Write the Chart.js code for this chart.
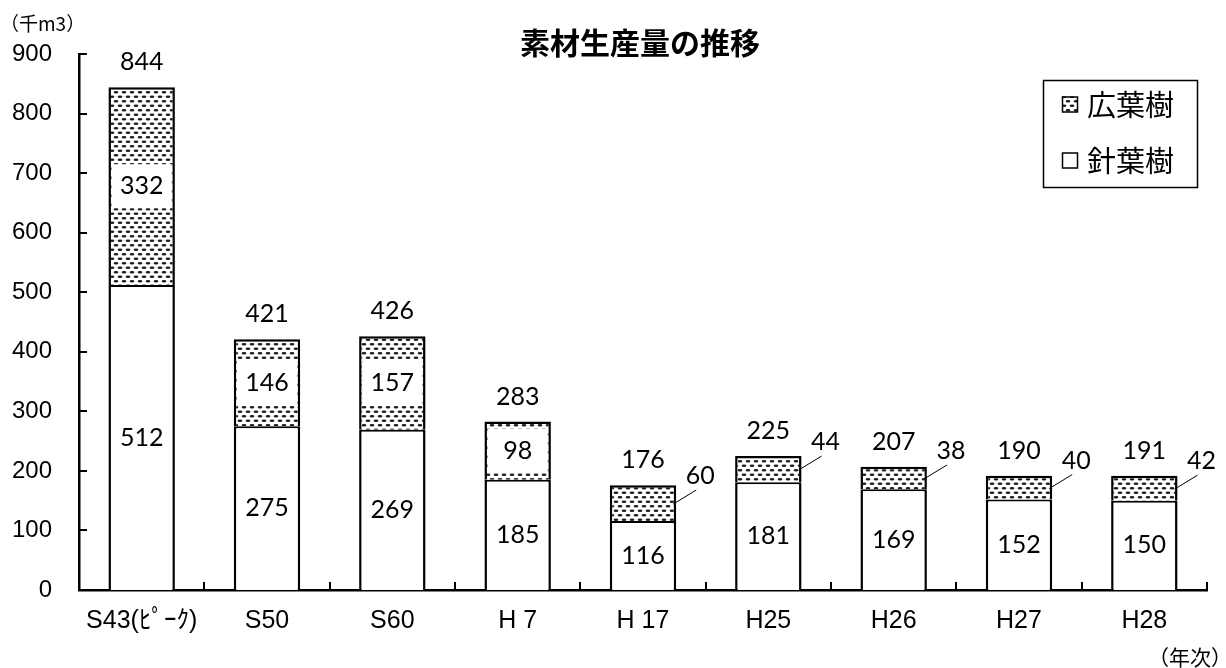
<!DOCTYPE html>
<html lang="ja">
<head>
<meta charset="utf-8">
<title>素材生産量の推移</title>
<script src="https://cdn.jsdelivr.net/npm/chart.js@4.4.0/dist/chart.umd.min.js"></script>
<style>
  html, body { margin: 0; padding: 0; background: #fff; }
  #wrap { width: 1226px; height: 668px; }
</style>
</head>
<body>
<div id="wrap"><canvas id="prodChart" width="1226" height="668"></canvas></div>
<script>
// === Data ===
const years = ['S43(ﾋﾟｰｸ)', 'S50', 'S60', 'H 7', 'H 17', 'H25', 'H26', 'H27', 'H28'];
const conifer = [512, 275, 269, 185, 116, 181, 169, 152, 150];
const broadleaf = [332, 146, 157, 98, 60, 44, 38, 40, 42];
const totals = [844, 421, 426, 283, 176, 225, 207, 190, 191];
const seriesNames = ['針葉樹', '広葉樹'];
const yMin = 0, yMax = 900, yStep = 100;

const titleText = '素材生産量の推移';
const yUnitText = '（千m3）';
const xUnitText = '（年次）';

const jp = '"Noto Sans CJK JP"';
const axisFamily = '"Liberation Sans", ' + jp;
const numFont = '25px Lato, "Noto Sans", sans-serif';

// dotted fill used for 広葉樹
function makeDots() {
  const c = document.createElement('canvas');
  c.width = 8; c.height = 9;
  const g = c.getContext('2d');
  g.fillStyle = '#fff';
  g.fillRect(0, 0, 8, 9);
  g.fillStyle = '#1e1e1e';
  const dot = (x, y) => { g.beginPath(); g.ellipse(x, y, 2.4, 1.3, 0, 0, Math.PI * 2); g.fill(); };
  dot(4, 2.25);
  dot(0, 6.75); dot(8, 6.75);
  return document.getElementById('prodChart').getContext('2d').createPattern(c, 'repeat');
}
const dots = makeDots();

// === Labels on bars ===
const barLabels = {
  id: 'barLabels',
  afterDatasetsDraw(chart) {
    const ctx = chart.ctx;
    const lowMeta = chart.getDatasetMeta(0);
    const highMeta = chart.getDatasetMeta(1);
    ctx.save();
    ctx.font = numFont;
    ctx.textAlign = 'center';
    ctx.textBaseline = 'middle';
    lowMeta.data.forEach((bar, i) => {
      const top = highMeta.data[i];
      ctx.fillStyle = '#000';
      ctx.fillText(conifer[i], bar.x, (bar.y + bar.base) / 2);

      const mid = (top.y + top.base) / 2;
      const segH = top.base - top.y;
      if (segH > 50) {
        const bw = top.width - 6;
        ctx.fillStyle = '#fff';
        ctx.fillRect(top.x - bw / 2, mid - 22, bw, 44);
        ctx.fillStyle = '#000';
        ctx.fillText(broadleaf[i], top.x, mid);
      } else {
        const rx = top.x + top.width / 2;
        ctx.strokeStyle = '#000';
        ctx.lineWidth = 1;
        ctx.beginPath();
        ctx.moveTo(rx + 20, mid - 13);
        ctx.lineTo(rx - 3, mid + 1);
        ctx.stroke();
        ctx.fillText(broadleaf[i], rx + 24, mid - 27);
      }
      ctx.fillText(totals[i], top.x, top.y - 25);
    });
    ctx.restore();
  }
};

// === Inner ticks, title, legend, unit texts ===
const decorations = {
  id: 'decorations',
  afterDraw(chart) {
    const ctx = chart.ctx;
    const area = chart.chartArea;
    const yScale = chart.scales.y;
    const xScale = chart.scales.x;
    ctx.save();
    ctx.strokeStyle = '#000';
    ctx.lineWidth = 2;
    ctx.beginPath();
    yScale.ticks.forEach(t => {
      if (t.value === yMin) return;
      const y = Math.round(yScale.getPixelForValue(t.value));
      ctx.moveTo(area.left, y);
      ctx.lineTo(area.left + 8, y);
    });
    const step = xScale.width / years.length;
    for (let i = 1; i <= years.length; i++) {
      const x = Math.round(xScale.left + step * i);
      ctx.moveTo(x, area.bottom);
      ctx.lineTo(x, area.bottom - 8);
    }
    ctx.stroke();

    ctx.fillStyle = '#000';
    ctx.textBaseline = 'middle';
    ctx.textAlign = 'center';
    ctx.font = 'bold 30px ' + jp;
    ctx.fillText(titleText, 640, 43);

    ctx.textAlign = 'left';
    ctx.font = '19px ' + jp;
    ctx.fillText(yUnitText, 0, 24);
    ctx.textAlign = 'right';
    ctx.font = '21px ' + jp;
    ctx.fillText(xUnitText, 1232, 657);

    // legend box
    ctx.lineWidth = 1.5;
    ctx.strokeRect(1043.5, 80.5, 154, 107);
    const items = [
      { name: seriesNames[1], fill: dots, y: 104.5 },
      { name: seriesNames[0], fill: '#fff', y: 160.5 }
    ];
    ctx.textAlign = 'left';
    ctx.font = '29px ' + jp;
    items.forEach(it => {
      ctx.fillStyle = it.fill;
      ctx.fillRect(1062, it.y - 8, 16, 16);
      ctx.lineWidth = 1.5;
      ctx.strokeRect(1062.5, it.y - 7.5, 15, 15);
      ctx.fillStyle = '#000';
      ctx.fillText(it.name, 1087, it.y);
    });
    ctx.restore();
  }
};

new Chart(document.getElementById('prodChart'), {
  type: 'bar',
  data: {
    labels: years,
    datasets: [
      {
        label: seriesNames[0],
        data: conifer,
        backgroundColor: '#fff',
        borderColor: '#000',
        borderWidth: { top: 2, left: 2.5, right: 2.5, bottom: 0 },
        borderSkipped: false,
        barPercentage: 0.53,
        categoryPercentage: 1
      },
      {
        label: seriesNames[1],
        data: broadleaf,
        backgroundColor: dots,
        borderColor: '#000',
        borderWidth: { top: 2.5, left: 2.5, right: 2.5, bottom: 0 },
        borderSkipped: false,
        barPercentage: 0.53,
        categoryPercentage: 1
      }
    ]
  },
  options: {
    responsive: false,
    animation: false,
    layout: { padding: { left: 10, right: 19, top: 54, bottom: 0 } },
    plugins: {
      legend: { display: false },
      title: { display: false },
      tooltip: { enabled: false }
    },
    scales: {
      x: {
        stacked: true,
        grid: { display: false, drawTicks: false },
        border: { display: true, color: '#000', width: 2.5 },
        ticks: {
          color: '#000',
          font: { family: axisFamily, size: 25 },
          padding: 16,
          maxRotation: 0,
          autoSkip: false
        },
        afterFit(s) { s.height = 78; }
      },
      y: {
        stacked: true,
        min: yMin,
        max: yMax,
        grid: { display: false, drawTicks: false },
        border: { display: true, color: '#000', width: 2.5 },
        ticks: {
          stepSize: yStep,
          color: '#000',
          font: { family: axisFamily, size: 24 },
          padding: 27
        },
        afterFit(s) { s.width = 69; }
      }
    }
  },
  plugins: [barLabels, decorations]
});
</script>
</body>
</html>
